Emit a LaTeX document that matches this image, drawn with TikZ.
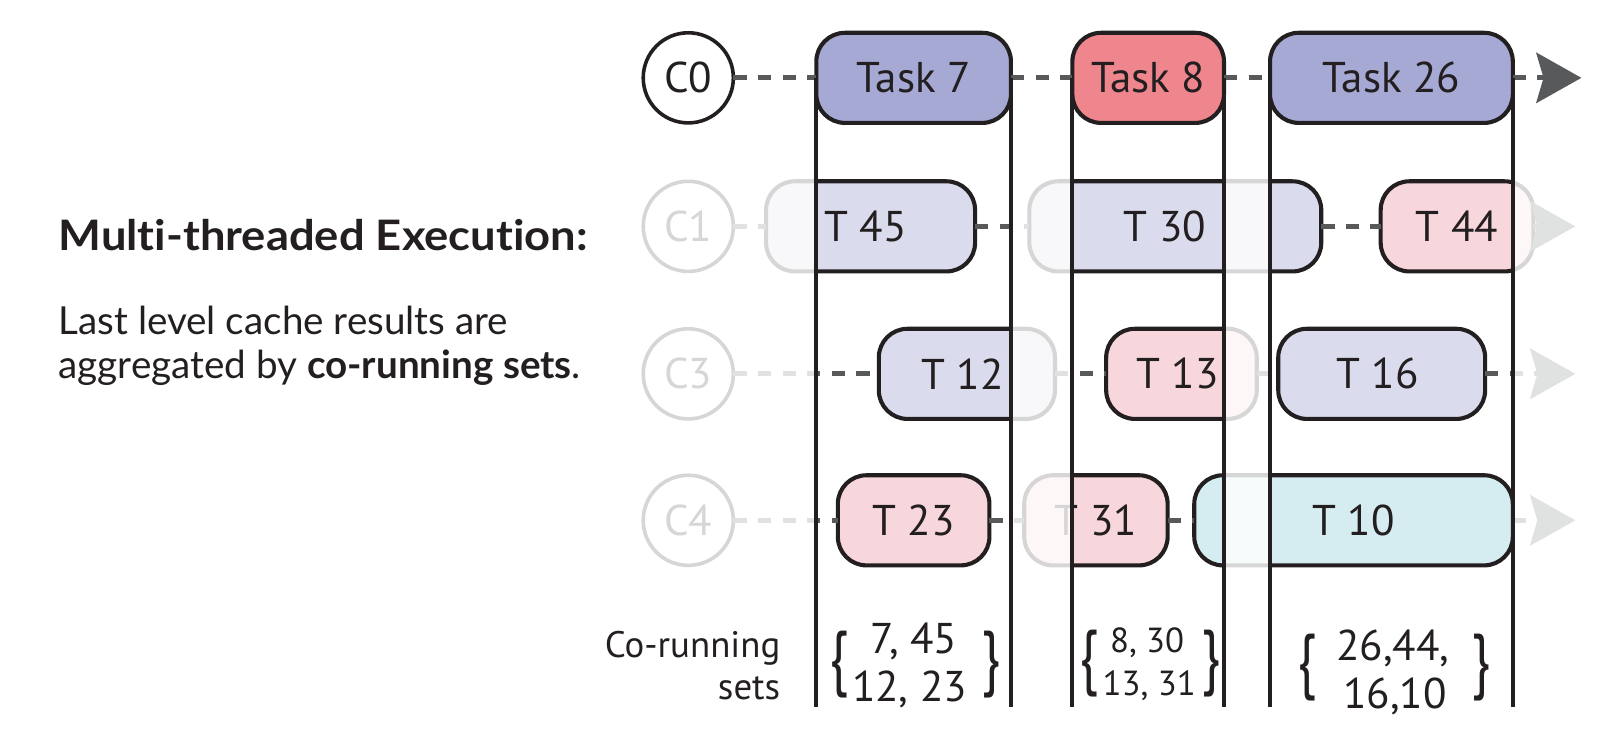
\documentclass[tikz,border=0pt]{standalone}
\usepackage{fontspec}
\setmainfont{PT Sans}
\newfontfamily\notefont{Lato}[Ligatures=NoCommon]
\usetikzlibrary{arrows.meta}

\definecolor{ink}{HTML}{231F20}
\definecolor{dashgrey}{HTML}{58595B}
\definecolor{periwinkle}{HTML}{A5A9D4}
\definecolor{salmon}{HTML}{EF868E}
\definecolor{lavender}{HTML}{DADBEC}
\definecolor{blush}{HTML}{F8D7DC}
\definecolor{aqua}{HTML}{D5EDF1}

\tikzset{
  task/.style={draw=ink, line width=4pt, rounded corners=28pt, minimum height=88pt,
    inner sep=0pt, outer sep=0pt, text=ink, font=\fontsize{42}{42}\selectfont},
  core/.style={circle, draw=ink, line width=3.5pt, minimum size=88pt, inner sep=0pt,
    outer sep=0pt, text=ink, font=\fontsize{42}{42}\selectfont},
  link/.style={draw=dashgrey, line width=5pt, dash pattern=on 13pt off 11pt},
  flow/.style={link, -{Stealth[length=44pt, width=49pt, inset=7pt]}},
  colline/.style={draw=ink, line width=4pt},
  note/.style={anchor=base west, inner sep=0pt, text=ink},
  setnum/.style={anchor=base, inner sep=0pt, text=ink},
  bracket/.style={inner sep=0pt, text=ink, font=\fontsize{54}{54}\selectfont},
}

\begin{document}
\begin{tikzpicture}[x=1pt, y=-1pt]
\useasboundingbox (0,0) rectangle (1568,737);

% explanatory text on the left
\node[note, font=\notefont\bfseries\fontsize{41}{41}\selectfont] (title) at (57,245) {\scalebox{1.08}[1]{Multi-threaded Execution:}};
\node[note, font=\notefont\fontsize{37.7}{37.7}\selectfont] (body1) at (57,327) {Last level cache results are};
\node[note, font=\notefont\fontsize{37.7}{37.7}\selectfont] (body2) at (57,370) {aggregated by \textbf{co-running sets}.};

% background threads C1, C3, C4
\node[core] (c1) at (672,221) {C1};
\node[core] (c3) at (672,365) {C3};
\node[core] (c4) at (672,508) {C4};

\node[task, fill=lavender, minimum width=204pt] (t45) at (850,221) {\hspace*{-10pt}T 45};
\node[task, fill=lavender, minimum width=285pt] (t30) at (1147.5,221) {\hspace*{-20pt}T 30};
\node[task, fill=blush,    minimum width=149pt] (t44) at (1422.5,221) {T 44};

\node[task, fill=lavender, minimum width=172pt] (t12) at (944,365) {\hspace*{-8pt}T 12};
\node[task, fill=blush,    minimum width=147pt] (t13) at (1153.5,365) {\hspace*{-8pt}T 13};
\node[task, fill=lavender, minimum width=202pt] (t16) at (1349,365) {\hspace*{-8pt}T 16};

\node[task, fill=blush, minimum width=148pt] (t23) at (892,508) {T 23};
\node[task, fill=blush, minimum width=140pt] (t31) at (1070,508) {T 31};
\node[task, fill=aqua,  minimum width=311pt] (t10) at (1321.5,508) {T 10};

\coordinate (c1end) at (1538,221);
\coordinate (c3end) at (1538,365);
\coordinate (c4end) at (1538,508);

\draw[link] (c1) -- (t45);
\draw[link] (t45) -- (t30);
\draw[link] (t30) -- (t44);
\draw[flow] (t44) -- (c1end);

\draw[link] (c3) -- (t12);
\draw[link] (t12) -- (t13);
\draw[link] (t13) -- (t16);
\draw[flow] (t16) -- (c3end);

\draw[link] (c4) -- (t23);
\draw[link] (t23) -- (t31);
\draw[link] (t31) -- (t10);
\draw[flow] (t10) -- (c4end);

% fade everything outside the co-running windows
\fill[white, opacity=0.82, even odd rule]
  (610,150) rectangle (1568,590)
  (797,150) rectangle (987,590)
  (1047,150) rectangle (1195,590)
  (1240,150) rectangle (1477,590);

% main thread C0
\node[core] (c0) at (672,76) {C0};
\node[task, fill=periwinkle, minimum width=190pt] (task7) at (892,76) {Task 7};
\node[task, fill=salmon,     minimum width=148pt] (task8) at (1121,76) {Task 8};
\node[task, fill=periwinkle, minimum width=237pt] (task26) at (1358.5,76) {Task 26};
\coordinate (c0end) at (1544,76);

\draw[link] (c0) -- (task7);
\draw[link] (task7) -- (task8);
\draw[link] (task8) -- (task26);
\draw[flow] (task26) -- (c0end);

% co-running windows
\coordinate (base) at (0,690);
\draw[colline] (task7.west) -- (task7.west |- base);
\draw[colline] (task7.east) -- (task7.east |- base);
\draw[colline] (task8.west) -- (task8.west |- base);
\draw[colline] (task8.east) -- (task8.east |- base);
\draw[colline] (task26.west) -- (task26.west |- base);
\draw[colline] (task26.east) -- (task26.east |- base);

% co-running sets
\node[anchor=base east, inner sep=0pt, text=ink, font=\fontsize{36}{36}\selectfont] (lab1) at (762,642) {Co-running};
\node[anchor=base east, inner sep=0pt, text=ink, font=\fontsize{36}{36}\selectfont] (lab2) at (762,683) {sets};

\node[setnum, font=\fontsize{42}{42}\selectfont] (s1a) at (892,638) {7, 45};
\node[setnum, font=\fontsize{42}{42}\selectfont] (s1b) at (888,685) {12, 23};
\node[bracket] (b1l) at (819,649) {\scalebox{1}[1.3]{\{}};
\node[bracket] (b1r) at (968,649) {\scalebox{1}[1.3]{\}}};

\node[setnum, font=\fontsize{34}{34}\selectfont] (s2a) at (1120,637) {8, 30};
\node[setnum, font=\fontsize{34}{34}\selectfont] (s2b) at (1122,679) {13, 31};
\node[bracket] (b2l) at (1063,648) {\scalebox{1}[1.3]{\{}};
\node[bracket] (b2r) at (1182,648) {\scalebox{1}[1.3]{\}}};

\node[setnum, font=\fontsize{42}{42}\selectfont] (s3a) at (1360,645) {26,44,};
\node[setnum, font=\fontsize{42}{42}\selectfont] (s3b) at (1362,692) {16,10};
\node[bracket] (b3l) at (1276,652) {\scalebox{1}[1.3]{\{}};
\node[bracket] (b3r) at (1446,652) {\scalebox{1}[1.3]{\}}};
\end{tikzpicture}
\end{document}
